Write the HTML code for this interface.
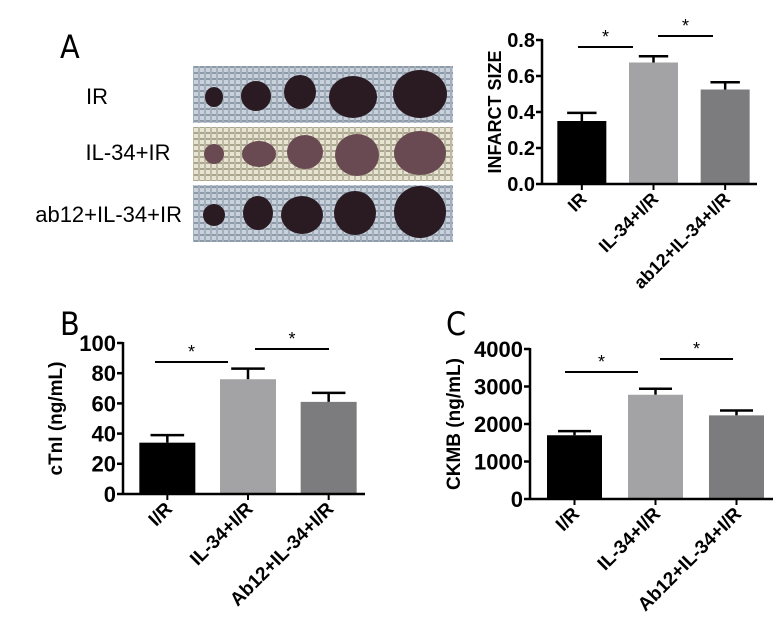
<!DOCTYPE html>
<html><head><meta charset="utf-8"><style>
body{margin:0;background:#fff;}
svg{display:block;font-family:"Liberation Sans",Arial,sans-serif;}
</style></head><body>
<svg id="fig" width="782" height="627" viewBox="0 0 782 627">
<defs>
<pattern id="gauze" width="6" height="6" patternUnits="userSpaceOnUse">
<rect width="6" height="6" fill="#c9d2dc"/><rect width="6" height="2" fill="#8e9aa8"/><rect width="2" height="6" fill="#a4afbc"/>
</pattern>
<pattern id="gauze2" width="6" height="6" patternUnits="userSpaceOnUse">
<rect width="6" height="6" fill="#e8e4d2"/><rect width="6" height="2" fill="#a9a58f"/><rect width="2" height="6" fill="#bdb9a4"/>
</pattern>
</defs>
<text x="60" y="58" font-size="32" font-family="'DejaVu Sans Condensed','Liberation Sans Narrow',sans-serif">A</text>
<text x="60" y="335" font-size="32" font-family="'DejaVu Sans Condensed','Liberation Sans Narrow',sans-serif">B</text>
<text x="446" y="335" font-size="32" font-family="'DejaVu Sans Condensed','Liberation Sans Narrow',sans-serif">C</text>
<g>
<rect x="193" y="66" width="260" height="57" fill="url(#gauze)"/>
<rect x="193" y="127" width="260" height="54" fill="url(#gauze2)"/>
<rect x="193" y="185" width="260" height="57" fill="url(#gauze)"/>
<g fill="#2a1a22">
<ellipse cx="214" cy="97" rx="9" ry="10"/><ellipse cx="256" cy="96" rx="15" ry="15"/><ellipse cx="300" cy="92" rx="16" ry="17"/><ellipse cx="353" cy="97" rx="24" ry="21"/><ellipse cx="420" cy="94" rx="27" ry="24"/>
<ellipse cx="214" cy="215" rx="11" ry="11"/><ellipse cx="258" cy="213" rx="15" ry="17"/><ellipse cx="302" cy="215" rx="21" ry="19"/><ellipse cx="355" cy="213" rx="21" ry="22"/><ellipse cx="420" cy="212" rx="26" ry="26"/>
</g>
<g fill="#6a4a52">
<ellipse cx="214" cy="154" rx="10" ry="10"/><ellipse cx="259" cy="154" rx="17" ry="13"/><ellipse cx="305" cy="152" rx="18" ry="17"/><ellipse cx="357" cy="155" rx="22" ry="21"/><ellipse cx="420" cy="153" rx="26" ry="22"/>
</g>
</g>
<text x="97" y="104" font-size="22" text-anchor="middle">IR</text>
<text x="128" y="160" font-size="22" text-anchor="middle">IL-34+IR</text>
<text x="182" y="222" font-size="22" text-anchor="end">ab12+IL-34+IR</text>
</svg>
<script>
const catsA = ["IR","IL-34+I/R","ab12+IL-34+I/R"];
const valsA = [0.35,0.675,0.525];
const errA = [0.045,0.035,0.04];
const ticksA = ["0.0","0.2","0.4","0.6","0.8"];
const catsB = ["I/R","IL-34+I/R","Ab12+IL-34+I/R"];
const valsB = [34,76,61];
const errB = [5,7,6];
const ticksB = ["0","20","40","60","80","100"];
const catsC = ["I/R","IL-34+I/R","Ab12+IL-34+I/R"];
const valsC = [1700,2780,2230];
const errC = [110,160,130];
const ticksC = ["0","1000","2000","3000","4000"];
const fills = ["#000000","#a3a3a5","#7c7c7e"];
const NS="http://www.w3.org/2000/svg";
const svg=document.getElementById('fig');
function mk(tag,attrs,parent){const e=document.createElementNS(NS,tag);for(const k in attrs)e.setAttribute(k,attrs[k]);(parent||svg).appendChild(e);return e;}
function chart(cfg){
  const g=mk('g',{});
  
  
  const max=parseFloat(cfg.ticks[cfg.ticks.length-1]);
  const y=v=>cfg.y0-(v/max)*(cfg.y0-cfg.yTop);
  const n=cfg.cats.length, w=cfg.xEnd-cfg.axX;
  const band=w/n;
  const cx=i=>cfg.axX+band*(i+0.5)+cfg.shift;
  cfg.vals.forEach((v,i)=>{
    const top=y(v+cfg.err[i]);
    const eb=mk('path',{d:`M${cx(i)} ${y(v)}V${top}M${cx(i)-cfg.bw*0.3} ${top}H${cx(i)+cfg.bw*0.3}`,stroke:'#000','stroke-width':2.5,fill:'none'},g);
    
    
    const r=mk('rect',{x:cx(i)-cfg.bw/2,y:y(v),width:cfg.bw,height:cfg.y0-y(v),fill:fills[i]},g);
    
    
    const t=mk('text',{x:cx(i)+6,y:cfg.y0+16,'font-size':cfg.fs,'font-weight':'bold','text-anchor':'end',transform:`rotate(-45 ${cx(i)+6} ${cfg.y0+16})`},g);
    t.textContent=cfg.cats[i];
    
    
    mk('line',{x1:cx(i),x2:cx(i),y1:cfg.y0,y2:cfg.y0+6,stroke:'#000','stroke-width':2},g);
  });
  mk('line',{x1:cfg.axX,x2:cfg.axX,y1:cfg.yTop-1,y2:cfg.y0+1,stroke:'#000','stroke-width':2.5},g);
  mk('line',{x1:cfg.axX,x2:cfg.xEnd,y1:cfg.y0,y2:cfg.y0,stroke:'#000','stroke-width':2.5},g);
  cfg.ticks.forEach(tk=>{
    const v=parseFloat(tk);
    mk('line',{x1:cfg.axX-6,x2:cfg.axX,y1:y(v),y2:y(v),stroke:'#000','stroke-width':2.5},g);
    const t=mk('text',{x:cfg.axX-7,y:y(v)+cfg.tfs*0.36,'font-size':cfg.tfs,'font-weight':'bold','text-anchor':'end'},g);
    t.textContent=tk;
    
    
  });
  const yt=mk('text',{x:cfg.titleX,y:(cfg.y0+cfg.yTop)/2,'font-size':cfg.fs,'font-weight':'bold','text-anchor':'middle',transform:`rotate(-90 ${cfg.titleX} ${(cfg.y0+cfg.yTop)/2})`},g);
  yt.textContent=cfg.title;
  
  
  cfg.sig.forEach((s,k)=>{
    const l=mk('line',{x1:s[0],x2:s[1],y1:s[2],y2:s[2],stroke:'#000','stroke-width':2},g);
    
    
    const t=mk('text',{x:(s[0]+s[1])/2,y:s[2]-4,'font-size':18,'text-anchor':'middle'},g);
    t.textContent='*';
    
    
  });
}
chart({name:'infarct-size-chart',cats:catsA,vals:valsA,err:errA,ticks:ticksA,axX:542,xEnd:757,y0:184,yTop:40,bw:49,shift:4,fs:18,tfs:20,title:'INFARCT SIZE',titleX:501,sig:[[578,633,47],[658,713,36]]});
chart({name:'ctni-chart',cats:catsB,vals:valsB,err:errB,ticks:ticksB,axX:123,xEnd:365,y0:494,yTop:343,bw:56,shift:4,fs:19,tfs:22,title:'cTnI (ng/mL)',titleX:62,sig:[[155,228,362],[255,329,349]]});
chart({name:'ckmb-chart',cats:catsC,vals:valsC,err:errC,ticks:ticksC,axX:530,xEnd:773,y0:499,yTop:349,bw:55,shift:4,fs:19,tfs:22,title:'CKMB (ng/mL)',titleX:460,sig:[[565,638,372],[660,733,359]]});
</script>
</body></html>
